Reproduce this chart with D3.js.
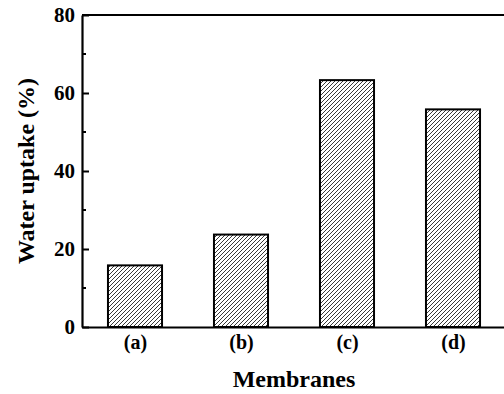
<!DOCTYPE html>
<html><head><meta charset="utf-8">
<script src="https://cdn.jsdelivr.net/npm/d3@7/dist/d3.min.js"></script>
<style>body{margin:0;background:#fff}svg{display:block}</style>
</head><body><svg id="c" width="504" height="394"></svg>
<script>
const categories = ["(a)", "(b)", "(c)", "(d)"];
const values = [15.8, 23.7, 63.3, 55.8];
const yTicks = [0, 20, 40, 60, 80];
const yMinor = [10, 30, 50, 70];

const svg = d3.select("#c");
const font = "'Liberation Serif','Times New Roman',serif";
const x = d3.scaleLinear().domain([0.5, 4.5]).range([82, 506]);
const y = d3.scaleLinear().domain([0, 80]).range([327, 15]);
const bw = 0.51;

const defs = svg.append("defs");
const pat = defs.append("pattern").attr("id","hatch").attr("patternUnits","userSpaceOnUse")
  .attr("width",4).attr("height",4);
pat.append("rect").attr("width",4).attr("height",4).attr("fill","#fff");
pat.append("path").attr("d","M-1,1 l2,-2 M0,4 l4,-4 M3,5 l2,-2").attr("stroke","#222").attr("stroke-width",0.9);

svg.selectAll("rect.bar").data(values).join("rect").attr("class","bar")
  .attr("x",(d,i)=>x(i+1-bw/2)).attr("width",x(bw)-x(0))
  .attr("y",d=>y(d)).attr("height",d=>y(0)-y(d))
  .attr("fill","url(#hatch)").attr("stroke","#000").attr("stroke-width",2);

// frame
svg.append("line").attr("x1",x(0.5)).attr("x2",x(4.5)).attr("y1",y(80)).attr("y2",y(80)).attr("stroke","#000").attr("stroke-width",2.2);
const yAxis = d3.axisLeft(y).tickValues(yTicks).tickSizeInner(-7).tickSizeOuter(0).tickPadding(7);
const gy = svg.append("g").attr("transform",`translate(${x(0.5)},0)`).call(yAxis);
gy.select(".domain").attr("stroke-width",2.2);
gy.selectAll(".tick line").attr("stroke-width",2);
gy.selectAll("text").attr("font-family",font).attr("font-weight","bold").attr("font-size",21).attr("fill","#000");
svg.append("g").attr("transform",`translate(${x(0.5)},0)`).selectAll("line").data(yMinor).join("line")
  .attr("x1",0).attr("x2",4).attr("y1",d=>y(d)).attr("y2",d=>y(d)).attr("stroke","#000").attr("stroke-width",2);

const xAxis = d3.axisBottom(x).tickValues([1,2,3,4]).tickFormat((d,i)=>categories[i]).tickSize(0).tickPadding(8);
const gx = svg.append("g").attr("transform",`translate(0,${y(0)})`).call(xAxis);
gx.select(".domain").attr("stroke-width",2.2);
gx.selectAll("text").attr("font-family",font).attr("font-weight","bold").attr("font-size",20).attr("fill","#000");

svg.append("text").attr("x",(x(0.5)+x(4.5))/2).attr("y",387).attr("text-anchor","middle")
  .attr("font-family",font).attr("font-weight","bold").attr("font-size",24).text("Membranes");
svg.append("text").attr("transform",`translate(34,${(y(0)+y(80))/2}) rotate(-90)`).attr("text-anchor","middle")
  .attr("font-family",font).attr("font-weight","bold").attr("font-size",24).text("Water uptake (%)");
</script></body></html>
